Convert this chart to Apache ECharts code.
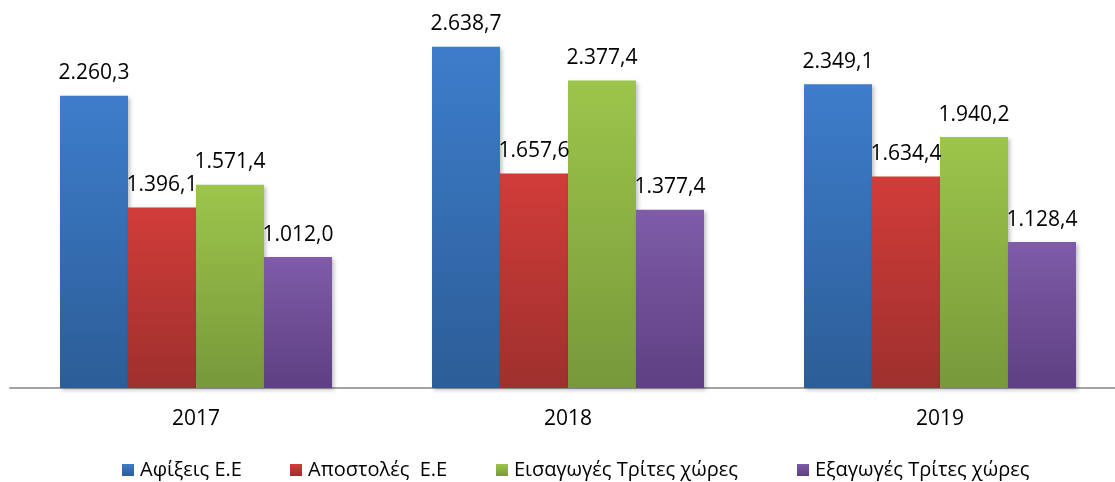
<!DOCTYPE html>
<html><head><meta charset="utf-8">
<script src="https://cdn.jsdelivr.net/npm/echarts@6/dist/echarts.min.js"></script>
<style>html,body{margin:0;padding:0;background:#fff;overflow:hidden}#c{width:1126px;height:482px}</style>
</head><body><div id="c"></div>
<script>
const categories = ['2017', '2018', '2019'];
const seriesNames = ['Αφίξεις Ε.Ε', 'Αποστολές  Ε.Ε', 'Εισαγωγές Τρίτες χώρες', 'Εξαγωγές Τρίτες χώρες'];
const arrivalsEU = [2260.3, 2638.7, 2349.1];
const dispatchesEU = [1396.1, 1657.6, 1634.4];
const importsThird = [1571.4, 2377.4, 1940.2];
const exportsThird = [1012.0, 1377.4, 1128.4];
const colorsTop = ['#3D7DCB', '#D13C39', '#9DC54B', '#7E5CA8'];
const colorsBottom = ['#2C5D97', '#9E302D', '#78983A', '#5F3F83'];
const legendLefts = [117, 285, 491, 792];

function fmt(v) {
  const parts = v.toFixed(1).split('.');
  const intPart = parts[0].replace(/\B(?=(\d{3})+(?!\d))/g, '.');
  return intPart + ',' + parts[1];
}

const dataSets = [arrivalsEU, dispatchesEU, importsThird, exportsThird];
const font = 'Open Sans';
const chart = echarts.init(document.getElementById('c'));
chart.setOption({
  animation: false,
  grid: { left: 10, top: 0, right: 0, height: 388 },
  legend: seriesNames.map((n, i) => ({
    top: 455, left: legendLefts[i],
    itemWidth: 12, itemHeight: 12, itemGap: 0,
    icon: 'rect',
    textStyle: { fontFamily: font, fontSize: 20, color: '#000', padding: [0, 0, 0, 1] },
    data: [n]
  })),
  xAxis: {
    type: 'category', data: categories,
    axisLine: { lineStyle: { color: '#A3A3A3', width: 2 } },
    axisTick: { show: false },
    axisLabel: { fontFamily: font, fontSize: 21, color: '#000', margin: 21 }
  },
  yAxis: { type: 'value', min: 0, max: 3000, show: false, splitLine: { show: false } },
  series: dataSets.map((d, i) => ({
    name: seriesNames[i], type: 'bar', data: d,
    barWidth: 68, barGap: '0%',
    itemStyle: {
      color: new echarts.graphic.LinearGradient(0, 0, 0, 1, [
        { offset: 0, color: colorsTop[i] }, { offset: 1, color: colorsBottom[i] }
      ]),
      shadowBlur: 4, shadowColor: 'rgba(0,0,0,0.25)', shadowOffsetX: 2, shadowOffsetY: 2
    },
    label: {
      show: true, position: 'top', distance: 12,
      fontFamily: font, fontSize: 21, color: '#000',
      formatter: p => fmt(p.value)
    }
  }))
});
</script></body></html>
